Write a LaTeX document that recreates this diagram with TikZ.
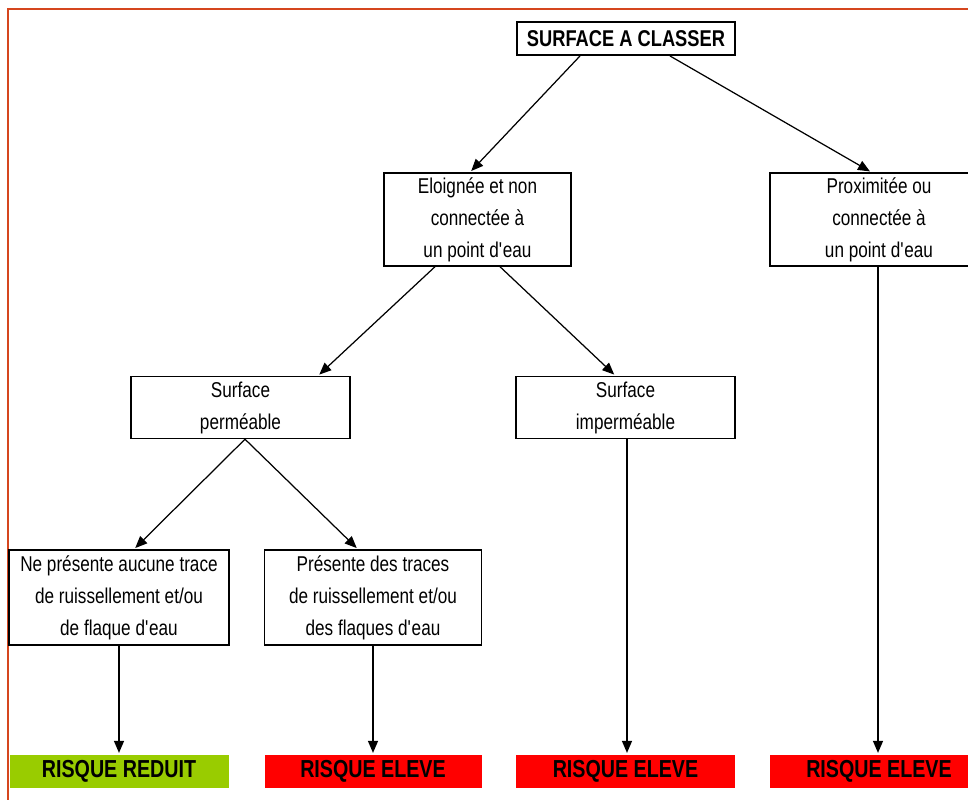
\documentclass[tikz,border=0pt]{standalone}
\usepackage{fontspec}
\setmainfont{Liberation Sans}[FakeStretch=0.8]
\usepackage{xcolor}
\usetikzlibrary{arrows.meta, positioning}
\definecolor{cadre}{HTML}{D5461E}
\definecolor{vertrisque}{HTML}{99CC00}
\definecolor{rougerisque}{HTML}{FF0000}
\newcommand{\apos}{\textquotesingle}

\begin{document}
\begin{tikzpicture}[
  boite/.style={draw, line width=0.8pt, align=center, inner sep=0pt,
    font=\fontsize{12.2}{18.2}\selectfont},
  risque/.style={fill=#1, draw=none, minimum width=4.38cm, minimum height=0.66cm,
    inner sep=0pt, font=\bfseries\fontsize{14}{16}\selectfont},
  fleche/.style={-{Triangle[length=0.24cm,width=0.2cm]}, line width=0.7pt, shorten >=1pt}
]
\useasboundingbox (0,0) rectangle (19.36,-16);
\clip (0,0) rectangle (19.36,-16);

% cadre
\draw[cadre, line width=1.1pt] (19.36,-0.18) -- (0.16,-0.18) -- (0.16,-16);

% boites
\node[boite, line width=1.1pt, minimum width=4.36cm, minimum height=0.66cm,
  font=\bfseries\fontsize{13}{15}\selectfont] (classer) at (12.52,-0.77) {SURFACE A CLASSER};
\node[boite, minimum width=3.74cm, minimum height=1.86cm] (eloignee) at (9.55,-4.39)
  {Eloignée et non\\connectée à\\un point d\apos eau};
\node[boite, minimum width=4.36cm, minimum height=1.86cm] (proximite) at (17.58,-4.39)
  {Proximitée ou\\connectée à\\un point d\apos eau};
\node[boite, minimum width=4.38cm, minimum height=1.24cm] (permeable) at (4.81,-8.15)
  {Surface\\perméable};
\node[boite, minimum width=4.38cm, minimum height=1.24cm] (impermeable) at (12.51,-8.15)
  {Surface\\imperméable};
\node[boite, minimum width=4.4cm, minimum height=1.9cm] (aucune) at (2.38,-11.95)
  {Ne présente aucune trace\\de ruissellement et/ou\\de flaque d\apos eau};
\node[boite, minimum width=4.34cm, minimum height=1.9cm] (traces) at (7.46,-11.95)
  {Présente des traces\\de ruissellement et/ou\\des flaques d\apos eau};

% niveaux de risque
\node[risque=vertrisque] (reduit) at (2.38,-15.43) {RISQUE REDUIT};
\node[risque=rougerisque, minimum width=4.34cm] (eleveA) at (7.46,-15.43) {RISQUE ELEVE};
\node[risque=rougerisque] (eleveB) at (12.51,-15.43) {RISQUE ELEVE};
\node[risque=rougerisque] (eleveC) at (17.58,-15.43) {RISQUE ELEVE};

% fleches
\draw[fleche] ([xshift=-0.92cm]classer.south) -- ([xshift=-0.15cm]eloignee.north);
\draw[fleche] ([xshift=0.88cm]classer.south) -- ([xshift=-0.15cm]proximite.north);
\draw[fleche] ([xshift=-0.85cm]eloignee.south) -- ([xshift=1.55cm]permeable.north);
\draw[fleche] ([xshift=0.45cm]eloignee.south) -- ([xshift=-0.2cm]impermeable.north);
\draw[fleche] ([xshift=0.09cm]permeable.south) -- ([xshift=0.3cm]aucune.north);
\draw[fleche] ([xshift=0.09cm]permeable.south) -- ([xshift=-0.3cm]traces.north);
\draw[fleche] (aucune) -- (reduit);
\draw[fleche] (traces) -- (eleveA);
\draw[fleche] ([xshift=0.03cm]impermeable.south) -- ([xshift=0.03cm]eleveB.north);
\draw[fleche] ([xshift=-0.02cm]proximite.south) -- ([xshift=-0.02cm]eleveC.north);
\end{tikzpicture}
\end{document}
